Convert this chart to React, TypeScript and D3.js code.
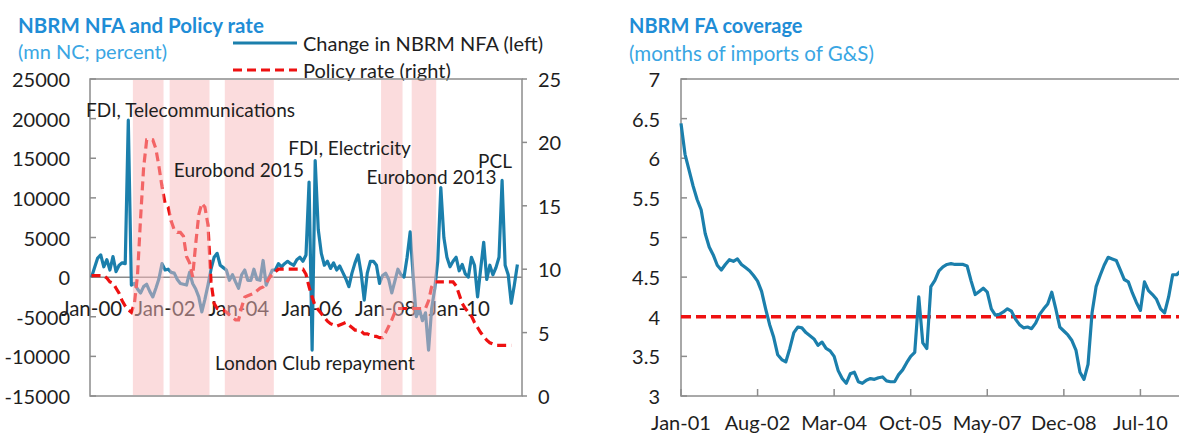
import React from 'react';
import * as d3 from 'd3';

// Left panel: monthly from Jan-00
const nfaChange = [
  0, 1200, 2400, 2800, 1300, 2200, 900, 2600, 700, 1500, 1800, 1700, 19800, -1000,
  -800, -1500, -2000, -1200, -900, -1800, -2500, -1400, -200, 1700, 900, 1000, 600, 500,
  -300, -800, -900, -1000, 600, -800, -1500, -2500, -4400, -2800, -1000, 1000, 2500, 3000,
  1500, 1200, 900, -400, 300, -600, -1400, 300, 900, -400, -400, 1000, -300, -400,
  2100, -1000, 0, 900, 900, 1700, 1300, 1700, 2000, 1700, 1500, 2200, 2500, 2000,
  2800, 12000, -9200, 14700, 6000, 3000, 1500, 2000, 1100, 1800, 900, 1400, 600, -200,
  -1200, 500, 1800, 2800, 500, -2900, 500, 2000, 2000, 1500, -800, 200, 500, -300,
  -2000, -500, 1000, 300, 0, 2500, 5700, 0, -5000, -4000, -5500, -4500, -9200, -4000,
  -1500, 2000, 11300, 5000, 2500, 1300, 2000, 2500, 800, 1600, 400, 0, 2500, 1500,
  -2500, 1000, 4400, -300, 1500, 300, 1200, 2500, 12200, 1500, 300, -3300, -1000, 1600,
];

const policyRate = [
  9.5, 9.5, 9.5, 9.5, 9.5, 9.3, 9.0, 8.9, 8.5, 8.1, 7.5, 7.1, 6.8, 6.6,
  7.3, 9.5, 14.0, 18.0, 20.2, 20.2, 20.2, 19.5, 18.1, 16.5, 15.2, 14.9, 13.8, 13.1,
  12.9, 12.9, 12.6, 11.0, 10.5, 9.4, 12.0, 14.3, 15.2, 14.9, 13.5, 9.0, 7.3, 6.9,
  6.8, 6.8, 6.6, 6.4, 6.2, 6.0, 6.0, 7.0, 7.8, 7.9, 8.0, 8.1, 8.3, 8.5,
  8.6, 8.9, 9.3, 9.6, 9.8, 10.0, 10.0, 10.0, 10.0, 10.0, 10.0, 10.0, 10.0, 10.0,
  9.6, 8.6, 7.8, 7.1, 6.8, 6.5, 6.2, 5.9, 5.7, 5.6, 5.5, 5.6, 5.7, 5.8,
  5.6, 5.4, 5.2, 5.2, 5.1, 4.9, 4.9, 4.8, 4.7, 4.7, 4.6, 4.6, 5.0, 5.5,
  6.0, 6.6, 6.9, 6.9, 6.9, 6.9, 6.9, 6.9, 6.9, 6.9, 6.9, 6.9, 7.5, 8.6,
  9.0, 9.0, 9.0, 9.0, 9.0, 9.0, 9.0, 8.7, 8.0, 7.3, 6.9, 6.6, 6.3, 5.8,
  5.4, 5.0, 4.7, 4.4, 4.2, 4.1, 4.0, 4.0, 4.0, 4.0, 4.0, 4.0,
];

const shadedPeriods = [
  ['2001-03', '2001-12'],
  ['2002-03', '2003-03'],
  ['2003-09', '2004-12'],
  ['2007-12', '2008-06'],
  ['2008-10', '2009-05'],
];

const leftTickLabels = ['Jan-00', 'Jan-02', 'Jan-04', 'Jan-06', 'Jan-08', 'Jan-10'];
const leftTickMonths = [0, 24, 48, 72, 96, 120];
const nfaTicks = [-15000, -10000, -5000, 0, 5000, 10000, 15000, 20000, 25000];
const rateTicks = [0, 5, 10, 15, 20, 25];

const annotations = [
  { label: 'FDI, Telecommunications', month: 32.3, value: 21200 },
  { label: 'Eurobond 2015', month: 48.1, value: 13600 },
  { label: 'FDI, Electricity', month: 84.2, value: 16400 },
  { label: 'Eurobond 2013', month: 111, value: 12700 },
  { label: 'PCL', month: 131.7, value: 14750 },
  { label: 'London Club repayment', month: 72.9, value: -10800 },
];

// Right panel: monthly from Jan-01
const faCoverage = [
  6.44, 6.05, 5.85, 5.65, 5.48, 5.35, 5.05, 4.88, 4.78, 4.65, 4.59, 4.66, 4.72, 4.70,
  4.73, 4.66, 4.62, 4.58, 4.52, 4.45, 4.32, 4.10, 3.90, 3.74, 3.52, 3.46, 3.43, 3.60,
  3.80, 3.87, 3.86, 3.80, 3.76, 3.72, 3.64, 3.68, 3.60, 3.57, 3.50, 3.32, 3.22, 3.16,
  3.28, 3.30, 3.18, 3.16, 3.20, 3.22, 3.21, 3.23, 3.24, 3.19, 3.18, 3.18, 3.27, 3.33,
  3.42, 3.50, 3.55, 4.25, 3.67, 3.60, 4.38, 4.46, 4.58, 4.63, 4.66, 4.67, 4.66, 4.66,
  4.66, 4.64, 4.45, 4.28, 4.32, 4.36, 4.31, 4.10, 4.02, 4.03, 4.06, 4.10, 4.07, 3.97,
  3.90, 3.86, 3.87, 3.85, 3.92, 4.03, 4.10, 4.16, 4.31, 4.10, 3.87, 3.82, 3.77, 3.70,
  3.58, 3.30, 3.21, 3.40, 4.05, 4.38, 4.52, 4.65, 4.75, 4.73, 4.71, 4.59, 4.47, 4.44,
  4.30, 4.18, 4.08, 4.44, 4.33, 4.28, 4.22, 4.10, 4.05, 4.25, 4.53, 4.53, 4.58,
];
const coverageThreshold = 4;

const rightTickLabels = ['Jan-01', 'Aug-02', 'Mar-04', 'Oct-05', 'May-07', 'Dec-08', 'Jul-10'];
const rightTickMonths = [0, 19, 38, 57, 76, 95, 114];
const coverageTicks = [3, 3.5, 4, 4.5, 5, 5.5, 6, 6.5, 7];

const BLUE = '#1b7fac';
const RED = '#ee1111';
const AXIS = '#8c8c8c';
const TEXT = '#1e1e1e';
const FONT = 'Lato, "Open Sans", sans-serif';

const monthIndex = (s: string) => {
  const [y, m] = s.split('-').map(Number);
  return (y - 2000) * 12 + (m - 1);
};

function LeftPanel() {
  const left = 90, right = 522, top = 79, bottom = 396;
  const x = d3.scaleLinear().domain([-0.5, 140.5]).range([left, right]);
  const y = d3.scaleLinear().domain([-15000, 25000]).range([bottom, top]);
  const yr = d3.scaleLinear().domain([0, 25]).range([bottom, top]);

  const nfaLine = d3.line<number>().x((_, i) => x(i)).y(d => y(d));
  const rateLine = d3.line<number>().x((_, i) => x(i)).y(d => yr(d));

  return (
    <g>
      <text x={18} y={25} fill="#1f8dd6" fontSize={20.5} fontWeight="bold" dominantBaseline="central">
        NBRM NFA and Policy rate
      </text>
      <text x={18} y={51} fill="#3aa6e3" fontSize={20} dominantBaseline="central">
        (mn NC; percent)
      </text>

      {/* legend */}
      <line x1={233} x2={297} y1={43} y2={43} stroke={BLUE} strokeWidth={3.2} />
      <text x={303} y={43} fill={TEXT} fontSize={20} dominantBaseline="central">
        Change in NBRM NFA (left)
      </text>
      <line x1={233} x2={297} y1={70} y2={70} stroke={RED} strokeWidth={3.2} strokeDasharray="9 5" />
      <text x={303} y={70} fill={TEXT} fontSize={20} dominantBaseline="central">
        Policy rate (right)
      </text>

      <rect x={left} y={top} width={right - left} height={bottom - top} fill="none" stroke={AXIS} strokeWidth={1.5} />

      {nfaTicks.map(t => (
        <g key={t}>
          <line x1={left} x2={left + 6} y1={y(t)} y2={y(t)} stroke={AXIS} strokeWidth={1.5} />
          <text x={70} y={y(t)} textAnchor="end" dominantBaseline="central" fontSize={20} fill={TEXT}>
            {t}
          </text>
        </g>
      ))}
      {rateTicks.map(t => (
        <g key={t}>
          <line x1={right} x2={right + 5} y1={yr(t)} y2={yr(t)} stroke={AXIS} strokeWidth={1.5} />
          <text x={538} y={yr(t)} dominantBaseline="central" fontSize={20} fill={TEXT}>
            {t}
          </text>
        </g>
      ))}

      <line x1={left} x2={right} y1={y(0)} y2={y(0)} stroke={AXIS} strokeWidth={1.5} />
      {leftTickLabels.map((lab, i) => (
        <text key={lab} x={x(leftTickMonths[i])} y={308} textAnchor="middle" dominantBaseline="central" fontSize={20.5} fill={TEXT}>
          {lab}
        </text>
      ))}

      <path d={nfaLine(nfaChange) || ''} fill="none" stroke={BLUE} strokeWidth={3.2} strokeLinejoin="round" />
      <path d={rateLine(policyRate) || ''} fill="none" stroke={RED} strokeWidth={3.2} strokeDasharray="9 5" />

      {shadedPeriods.map(([a, b]) => (
        <rect
          key={a}
          x={x(monthIndex(a) - 0.5)}
          y={top + 1}
          width={x(monthIndex(b) + 0.5) - x(monthIndex(a) - 0.5)}
          height={bottom - top - 2}
          fill="#f7b9bb"
          fillOpacity={0.5}
        />
      ))}

      {annotations.map(a => (
        <text key={a.label} x={x(a.month)} y={y(a.value)} textAnchor="middle" dominantBaseline="central" fontSize={19} fill={TEXT}>
          {a.label}
        </text>
      ))}
    </g>
  );
}

function RightPanel() {
  const left = 681, right = 1190, top = 79, bottom = 396;
  const x = d3.scaleLinear().domain([0, 124]).range([left, left + 4.03 * 124]);
  const y = d3.scaleLinear().domain([3, 7]).range([bottom, top]);
  const line = d3.line<number>().x((_, i) => x(i)).y(d => y(d));

  return (
    <g>
      <text x={629} y={25} fill="#1f8dd6" fontSize={20} fontWeight="bold" dominantBaseline="central">
        NBRM FA coverage
      </text>
      <text x={629} y={53} fill="#3aa6e3" fontSize={20.5} dominantBaseline="central">
        (months of imports of G&amp;S)
      </text>

      <rect x={left} y={top} width={right - left} height={bottom - top} fill="none" stroke={AXIS} strokeWidth={1.5} />

      {coverageTicks.map(t => (
        <g key={t}>
          <line x1={left} x2={left + 6} y1={y(t)} y2={y(t)} stroke={AXIS} strokeWidth={1.5} />
          <text x={660} y={y(t)} textAnchor="end" dominantBaseline="central" fontSize={20} fill={TEXT}>
            {t}
          </text>
        </g>
      ))}
      {rightTickLabels.map((lab, i) => (
        <g key={lab}>
          <line x1={x(rightTickMonths[i])} x2={x(rightTickMonths[i])} y1={bottom} y2={bottom - 7} stroke={AXIS} strokeWidth={1.5} />
          <text x={x(rightTickMonths[i])} y={422} textAnchor="middle" dominantBaseline="central" fontSize={20} fill={TEXT}>
            {lab}
          </text>
        </g>
      ))}

      <line x1={x(0)} x2={x(faCoverage.length - 1)} y1={y(coverageThreshold)} y2={y(coverageThreshold)} stroke={RED} strokeWidth={3.5} strokeDasharray="10 5" />
      <path d={line(faCoverage) || ''} fill="none" stroke={BLUE} strokeWidth={3.2} strokeLinejoin="round" />
    </g>
  );
}

export default function App() {
  return (
    <svg
      width={1179}
      height={434}
      style={{ position: 'fixed', left: 0, top: 0, background: '#fff', fontFamily: FONT }}
    >
      <rect width={1179} height={434} fill="#fff" />
      <LeftPanel />
      <RightPanel />
    </svg>
  );
}
